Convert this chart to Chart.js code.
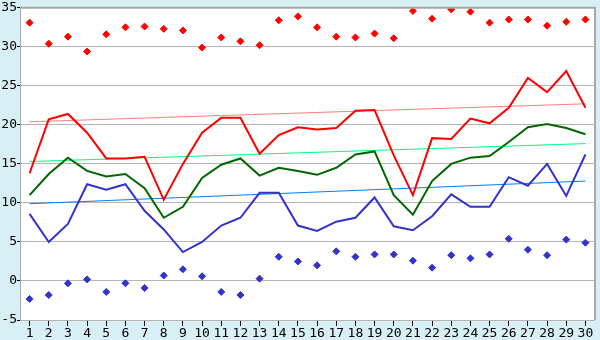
<!DOCTYPE html>
<html>
<head>
<meta charset="utf-8">
<script src="https://cdn.jsdelivr.net/npm/chart.js@4/dist/chart.umd.min.js"></script>
<style>
  html, body { margin: 0; padding: 0; background: #d9eff6; }
  #wrap { width: 600px; height: 340px; }
</style>
</head>
<body>
<div id="wrap"><canvas id="chart" width="600" height="340"></canvas></div>
<script>
const days = [];
for (let d = 1; d <= 30; d++) days.push(String(d));

// daily values
const maxTemp = [13.8, 20.7, 21.4, 19.0, 15.7, 15.7, 15.9, 10.4, 15.0, 19.0,
  20.9, 20.9, 16.3, 18.7, 19.7, 19.4, 19.6, 21.8, 21.9, 16.1,
  11.0, 18.3, 18.2, 20.8, 20.2, 22.2, 26.0, 24.2, 26.9, 22.2];
const meanTemp = [11.0, 13.7, 15.8, 14.1, 13.4, 13.7, 11.9, 8.1, 9.5, 13.2,
  14.9, 15.7, 13.5, 14.5, 14.1, 13.6, 14.5, 16.2, 16.6, 11.0,
  8.5, 12.8, 15.0, 15.8, 16.0, 17.8, 19.7, 20.1, 19.6, 18.8];
const minTemp = [8.6, 5.0, 7.3, 12.4, 11.7, 12.4, 9.0, 6.6, 3.7, 5.0,
  7.1, 8.1, 11.3, 11.3, 7.1, 6.4, 7.6, 8.1, 10.7, 7.0,
  6.5, 8.3, 11.1, 9.5, 9.5, 13.3, 12.2, 15.0, 10.9, 16.2];
const recordMax = [33.1, 30.4, 31.3, 29.4, 31.6, 32.5, 32.6, 32.3, 32.1, 29.9,
  31.2, 30.7, 30.2, 33.4, 33.9, 32.5, 31.3, 31.2, 31.7, 31.1,
  34.6, 33.6, 34.8, 34.5, 33.1, 33.5, 33.5, 32.7, 33.2, 33.5];
const recordMin = [-2.3, -1.8, -0.3, 0.2, -1.4, -0.3, -0.9, 0.7, 1.5, 0.6,
  -1.4, -1.8, 0.3, 3.1, 2.5, 2.0, 3.8, 3.1, 3.4, 3.4,
  2.6, 1.7, 3.3, 2.9, 3.4, 5.4, 4.0, 3.3, 5.3, 4.9];

// trend lines: start and end values only
const maxTrend = [20.4, 22.7];
const meanTrend = [15.3, 17.6];
const minTrend = [9.9, 12.8];

function ends(pair) {
  const arr = new Array(days.length).fill(null);
  arr[0] = pair[0];
  arr[arr.length - 1] = pair[1];
  return arr;
}

const background = {
  id: 'background',
  beforeDraw(chart) {
    const { ctx, chartArea: a } = chart;
    ctx.save();
    ctx.fillStyle = '#d9eff6';
    ctx.fillRect(0, 0, chart.width, chart.height);
    ctx.fillStyle = '#ffffff';
    ctx.fillRect(a.left, a.top, a.right - a.left, a.bottom - a.top);
    ctx.restore();
  },
  afterDatasetsDraw(chart) {
    const { ctx, chartArea: a } = chart;
    ctx.save();
    ctx.strokeStyle = '#a8a8a8';
    ctx.lineWidth = 2;
    ctx.beginPath();
    ctx.moveTo(a.left, a.top);
    ctx.lineTo(a.right, a.top);
    ctx.lineTo(a.right, a.bottom);
    ctx.stroke();
    ctx.restore();
  }
};

function line(data, color, width, order) {
  return {
    data: data, borderColor: color, backgroundColor: color,
    borderWidth: width, pointRadius: 0, tension: 0, spanGaps: true,
    fill: false, order: order
  };
}

function marks(data, color) {
  return {
    data: data, showLine: false, borderColor: color, backgroundColor: color,
    pointStyle: 'rectRot', pointRadius: 3.5, pointBorderWidth: 1, order: 0
  };
}

const tickFont = { family: 'DejaVu Sans Mono', size: 13 };

new Chart(document.getElementById('chart'), {
  type: 'line',
  data: {
    labels: days,
    datasets: [
      line(ends(maxTrend), '#ff8080', 1, 5),
      line(ends(meanTrend), '#00ff80', 1, 5),
      line(ends(minTrend), '#0080ff', 1, 5),
      line(maxTemp, '#ff0000', 2, 1),
      line(meanTemp, '#006600', 2, 1),
      line(minTemp, '#3333cc', 2, 1),
      marks(recordMax, '#ff0000'),
      marks(recordMin, '#3333cc')
    ]
  },
  options: {
    responsive: false,
    animation: false,
    layout: { padding: { top: 5, right: 5, left: 0, bottom: 0 } },
    plugins: { legend: { display: false }, tooltip: { enabled: false } },
    scales: {
      x: {
        offset: true,
        grid: { drawOnChartArea: false, drawTicks: true, tickLength: 6, tickColor: '#000', offset: false },
        border: { display: false },
        ticks: { color: '#000', padding: 0, font: tickFont, maxRotation: 0, autoSkip: false },
        afterFit(scale) { scale.height = 20; }
      },
      y: {
        min: -5, max: 35,
        grid: { color: '#b4b4b4', tickLength: 3, tickColor: '#000' },
        border: { color: '#a8a8a8', width: 1 },
        ticks: { stepSize: 5, color: '#000', padding: 0, font: tickFont },
        afterFit(scale) { scale.width = 20; }
      }
    }
  },
  plugins: [background]
});
</script>
</body>
</html>
